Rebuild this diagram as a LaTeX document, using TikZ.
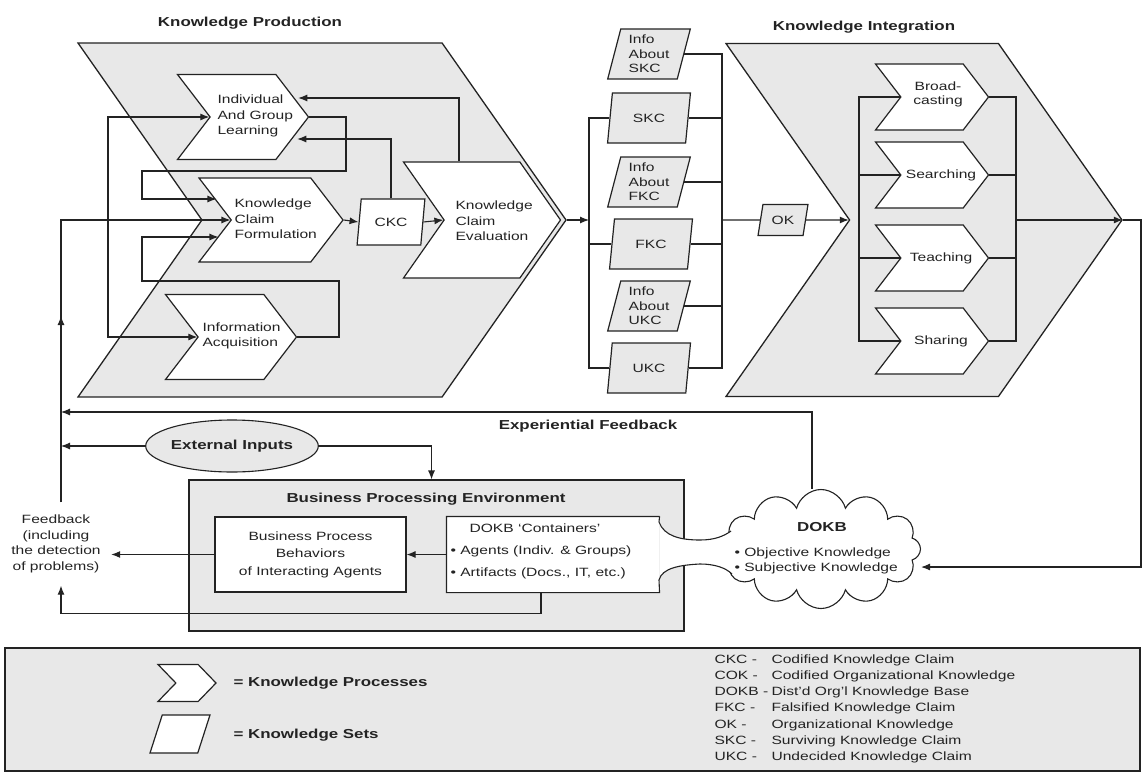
\documentclass[tikz,border=0pt]{standalone}
\usepackage{fontspec}
\setmainfont[FakeStretch=1.3]{Liberation Sans}
\usetikzlibrary{arrows.meta,calc,positioning,shapes.geometric,shapes.symbols}
\definecolor{kmgray}{RGB}{232,232,232}
\definecolor{kmline}{RGB}{35,35,35}

\begin{document}
\begin{tikzpicture}[x=1pt,y=-1pt,color=kmline,line width=1.1pt,
  >={Latex[length=9pt,width=7pt]},
  proc/.style={signal,signal to=east,signal from=west,signal pointer angle=105,
    draw,fill=white,line width=1.2pt,inner sep=0pt},
  bigproc/.style={proc,signal pointer angle=110,fill=kmgray,line width=1.3pt},
  kset/.style={trapezium,trapezium left angle=76,trapezium right angle=104,
    trapezium stretches=true,draw,fill=kmgray,line width=1.2pt,inner sep=0pt,
    minimum width=83,minimum height=50,align=left,font=\fontsize{12}{14.5}\selectfont},
  ptext/.style={font=\fontsize{12}{15.5}\selectfont,align=left,inner sep=0pt},
  hdr/.style={font=\fontsize{13}{16}\selectfont\bfseries,inner sep=0pt}]

\useasboundingbox (0,0) rectangle (1142,773);

% knowledge production
\node[hdr] (kphdr) at (250,23) {Knowledge Production};
\node[bigproc,minimum width=488,minimum height=354] (kp) at (322,220) {};
\node[proc,minimum width=131,minimum height=85] (iagl) at (243,117) {};
\node[proc,minimum width=144,minimum height=84] (kcf) at (271,220) {};
\node[proc,minimum width=131,minimum height=85] (ia) at (231,337) {};
\node[proc,signal pointer angle=110,minimum width=157,minimum height=116] (kce) at (482,220) {};
\node[kset,trapezium left angle=75,trapezium right angle=105,minimum width=68,minimum height=46,fill=white] (ckc) at (391,222) {CKC};

\node[ptext,anchor=west] (iagltxt) at (217,116) {Individual\\And Group\\Learning};
\node[ptext,anchor=west] (kcftxt) at (234,219) {Knowledge\\Claim\\Formulation};
\node[ptext,anchor=west] (iatxt) at (202,336) {Information\\Acquisition};
\node[ptext,anchor=west] (kcetxt) at (455,221) {Knowledge\\Claim\\Evaluation};

\draw[->] (108,220) |- (iagl.west);
\draw[->] (108,220) |- (ia.west);
\draw[->] (iagl.east) -| (346,171) -| (142,199) -- ($(kcf.west)+(-14,-21)$);
\draw[->] (ia.east) -| (339,281) -| (142,237) -- ($(kcf.west)+(-12,17)$);
\draw[->] (kcf.east) -- (ckc.west);
\draw[->] (ckc.east) -- (kce.west);
\draw[->] (ckc.north) |- ($(iagl.east)+(-12,22)$);
\draw[->] ($(kce.north)+(-23,0)$) |- ($(iagl.east)+(-11,-19)$);

% knowledge sets
\node[kset] (iaskc) at (649,54) {Info\\About\\SKC};
\node[kset] (skc) at (649,118) {SKC};
\node[kset] (iafkc) at (649,182) {Info\\About\\FKC};
\node[kset] (fkc) at (651,244) {FKC};
\node[kset] (iaukc) at (649,306) {Info\\About\\UKC};
\node[kset] (ukc) at (649,368) {UKC};
\node[kset,minimum width=50,minimum height=31,trapezium left angle=72,trapezium right angle=108] (ok) at (783,220) {OK};

\draw[->] (kp.east) -- (589,220);
\draw (skc.west) -| (589,220);
\draw (ukc.west) -| (589,220);
\draw (fkc.west) -- (fkc.west -| 589,0);
\draw (iaskc.east) -| (722,220);
\draw (ukc.east) -| (722,220);
\foreach \k in {skc,iafkc,fkc,iaukc}
  \draw (\k.east) -- (\k.east -| 722,0);
\draw (722,220) -- (ok.west);

% knowledge integration
\node[hdr] (kihdr) at (864,27) {Knowledge Integration};
\node[bigproc,minimum width=396,minimum height=353] (ki) at (924,220) {};
\node[proc,minimum width=113,minimum height=66] (bcast) at (932,97) {};
\node[proc,minimum width=113,minimum height=66] (srch) at (932,175) {};
\node[proc,minimum width=113,minimum height=66] (teach) at (932,258) {};
\node[proc,minimum width=113,minimum height=66] (shar) at (932,341) {};
\node[ptext,align=center,font=\fontsize{12}{14}\selectfont] (bcasttxt) at (938,94) {Broad-\\casting};
\node[ptext] (srchtxt) at (941,175) {Searching};
\node[ptext] (teachtxt) at (941,258) {Teaching};
\node[ptext] (shartxt) at (941,341) {Sharing};

\draw[->] (ok.east) -- (ki.west);
\draw (bcast.west) -| (859,220) |- (shar.west);
\draw (srch.west) -- (srch.west -| 859,0);
\draw (teach.west) -- (teach.west -| 859,0);
\draw (bcast.east) -| (1016,220) |- (shar.east);
\draw (srch.east) -- (srch.east -| 1016,0);
\draw (teach.east) -- (teach.east -| 1016,0);
\draw[->] (1016,220) -- (ki.east);

% business side
\node[ellipse,draw,fill=kmgray,minimum width=171,minimum height=52,inner sep=0pt,
  font=\fontsize{13}{16}\selectfont\bfseries] (ext) at (232,446) {External Inputs};
\node[hdr] (expfb) at (588,426) {Experiential Feedback};
\node[draw,fill=kmgray,minimum width=495,minimum height=151,inner sep=0pt] (bpe) at (436.5,555.5) {};
\node[hdr] (bpehdr) at (426,499) {Business Processing Environment};
\node[draw,fill=white,minimum width=191,minimum height=75,inner sep=0pt,
  font=\fontsize{12}{17.5}\selectfont,align=center] (bpb) at (310.5,554.5)
  {Business Process\\Behaviors\\of Interacting Agents};
\node[fill=white,minimum width=212,minimum height=75,inner sep=0pt] (contbox) at (553,554.5) {};
\node[cloud,cloud puffs=12,aspect=1.67,draw,fill=white,line width=1.1pt,
  minimum width=199,minimum height=119,inner sep=1pt] (dokb) at (821,549) {};
\fill[white] (contbox.north east) -- (659,522) .. controls (664,536) and (680,540) .. (700,540)
  .. controls (715,540) and (724,536) .. (731,531) -- (745,531) -- (745,574) -- (732,574)
  .. controls (726,568) and (715,564) .. (700,564) .. controls (680,565) and (662,568) .. (659,580)
  -- (contbox.south east) -- cycle;
\draw (contbox.north east) -- (contbox.north west) -- (contbox.south west) -- (contbox.south east)
  -- (659,580) .. controls (662,568) and (680,565) .. (700,564) .. controls (715,564) and (726,568) .. (732,574);
\draw (contbox.north east) -- (659,522) .. controls (664,536) and (680,540) .. (700,540)
  .. controls (715,540) and (724,536) .. (731,531);
\node[ptext,anchor=west,font=\fontsize{12}{22}\selectfont] (conttxt) at (450,551)
  {\hspace*{19pt}DOKB ‘Containers’\\• Agents (Indiv. \& Groups)\\• Artifacts (Docs., IT, etc.)};
\node[hdr] (dokbtxt) at (822,527) {DOKB};
\node[ptext,anchor=west,font=\fontsize{12}{15}\selectfont] (dokbitems) at (734,560.5)
  {• Objective Knowledge\\• Subjective Knowledge};
\node[ptext,align=center,inner xsep=10pt,inner ysep=12pt,font=\fontsize{12}{15.7}\selectfont] (fbk) at (56,544)
  {Feedback\\(including\\the detection\\of problems)};

\draw[->] (fbk.north -| 61,0) -- (61,316);
\draw[->] (61,322) -- (61,220) -- (kcf.west);
\draw[->] (ext.west) -- (61,446);
\draw[->] (ext.east) -| ($(bpe.north)+(-5,0)$);
\draw[->] ($(dokb.north)+(-9,0)$) |- (61,412);
\draw[->] (contbox.west) -- (bpb.east);
\draw[->] (bpb.west) -- (fbk.east |- bpb.west);
\draw[->] ($(contbox.south)+(-12,0)$) -- ++(0,21) -| (fbk.south -| 61,0);
\draw[->] (ki.east) -- (1141,220) -- (1141,567) -- (dokb.east |- 0,567);

% legend
\node[draw,fill=kmgray,minimum width=1135,minimum height=123,inner sep=0pt] (legend) at (572.5,709.5) {};
\node[proc,inner sep=1pt,signal pointer angle=92,minimum width=58,minimum height=37] (lgproc) at (187,683) {};
\node[kset,inner sep=1pt,fill=white,minimum width=60,minimum height=38,trapezium left angle=71,trapezium right angle=109] (lgset) at (180,734) {};
\node[hdr,anchor=west] (lgproctxt) at (233,683) {= Knowledge Processes};
\node[hdr,anchor=west] (lgsettxt) at (233,735) {= Knowledge Sets};
\node[ptext,anchor=north west,font=\fontsize{12}{16.2}\selectfont] (abbrevs) at (714,654)
  {\makebox[57pt][l]{CKC -}Codified Knowledge Claim\\
   \makebox[57pt][l]{COK -}Codified Organizational Knowledge\\
   \makebox[57pt][l]{DOKB -}Dist’d Org’l Knowledge Base\\
   \makebox[57pt][l]{FKC -}Falsified Knowledge Claim\\
   \makebox[57pt][l]{OK -}Organizational Knowledge\\
   \makebox[57pt][l]{SKC -}Surviving Knowledge Claim\\
   \makebox[57pt][l]{UKC -}Undecided Knowledge Claim};
\end{tikzpicture}
\end{document}
